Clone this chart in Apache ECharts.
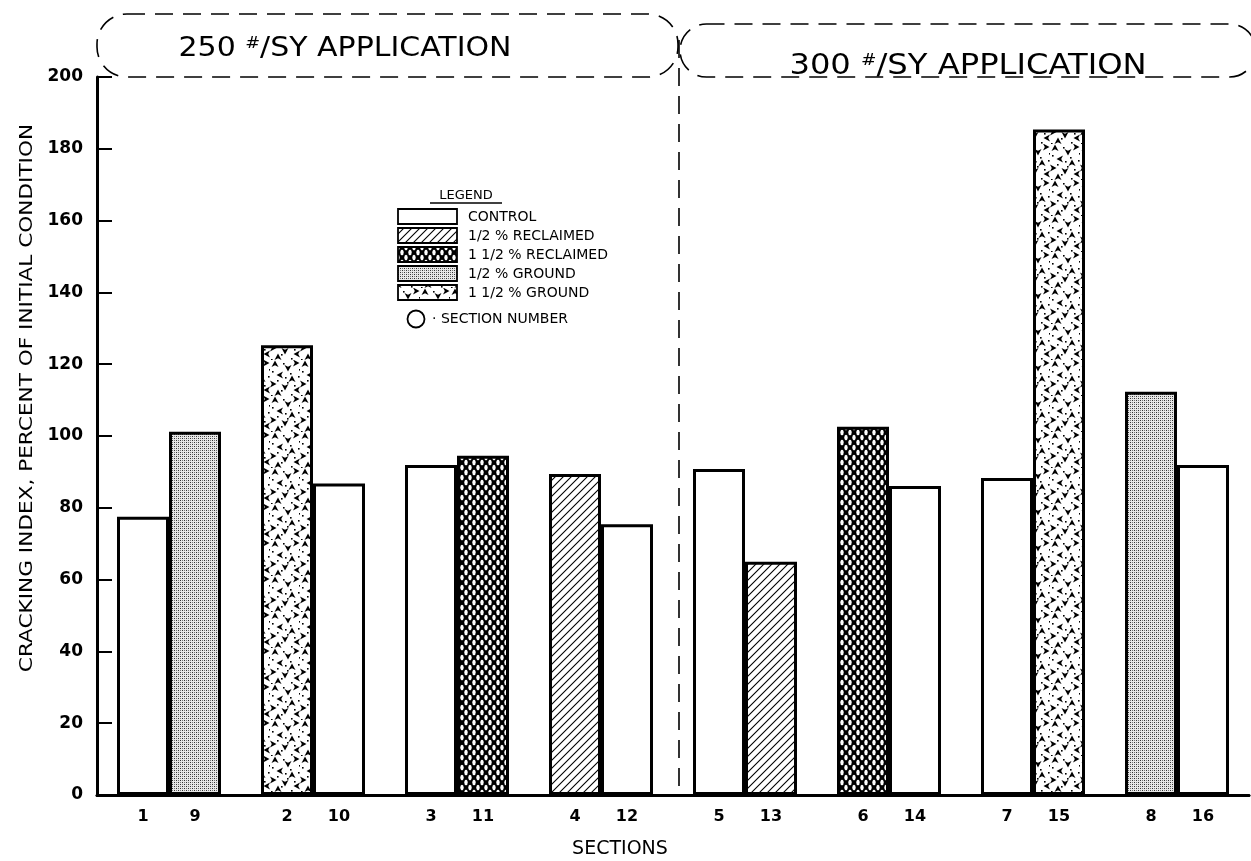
<!DOCTYPE html>
<html><head><meta charset="utf-8">
<script src="https://cdn.jsdelivr.net/npm/echarts@6/dist/echarts.min.js"></script>
<style>html,body{margin:0;padding:0;background:#fff}#c{width:1251px;height:861px}</style>
</head><body><div id="c"></div>
<script>
// ---- data ----
const pairLabels = ['1-9','2-10','3-11','4-12','5-13','6-14','7-15','8-16'];
const leftSections = ['1','2','3','4','5','6','7','8'];
const rightSections = ['9','10','11','12','13','14','15','16'];
const leftValues = [77.5,125.3,91.9,89.4,90.8,102.6,88.3,112.3];
const rightValues = [101.2,86.8,94.5,75.4,65.0,86.1,185.4,91.9];
const leftTreatments = ['control','ground15','control','reclaimed05','control','reclaimed15','control','ground05'];
const rightTreatments = ['ground05','control','reclaimed15','control','reclaimed05','control','ground15','control'];
const legendKeys = ['control','reclaimed05','reclaimed15','ground05','ground15'];
const legendLabels = ['CONTROL','1/2 % RECLAIMED','1 1/2 % RECLAIMED','1/2 % GROUND','1 1/2 % GROUND'];
const yMin = 0, yMax = 200, yStep = 20;
const groupTitles = ['250 {s|#}/SY APPLICATION','300 {s|#}/SY APPLICATION'];
const yTitle = 'CRACKING INDEX, PERCENT OF INITIAL CONDITION';
const xTitle = 'SECTIONS';

// ---- textures ----
function mk(w,h,draw){const c=document.createElement('canvas');c.width=w;c.height=h;const g=c.getContext('2d');draw(g);return c;}
const tex = {
  control: '#ffffff',
  reclaimed05: {image: mk(8,8,g=>{g.fillStyle='#fff';g.fillRect(0,0,8,8);g.strokeStyle='#000';g.lineWidth=1.1;g.beginPath();g.moveTo(-1,9);g.lineTo(9,-1);g.moveTo(-1,1);g.lineTo(1,-1);g.moveTo(7,9);g.lineTo(9,7);g.stroke();}), repeat:'repeat'},
  reclaimed15: {image: mk(8,10,g=>{g.fillStyle='#000';g.fillRect(0,0,8,10);g.fillStyle='#fff';
      [[2,2.5],[6,7.5],[6,-2.5],[2,12.5],[-2,7.5],[10,7.5]].forEach(p=>{g.beginPath();g.ellipse(p[0],p[1],1.7,2.7,0,0,Math.PI*2);g.fill();});}), repeat:'repeat'},
  ground05: {image: mk(4,4,g=>{g.fillStyle='#e8e8e8';g.fillRect(0,0,4,4);g.fillStyle='#333';g.fillRect(0,0,1,1);g.fillRect(2,2,1,1);g.fillStyle='#777';g.fillRect(2,0,1,1);g.fillRect(0,2,1,1);}), repeat:'repeat'},
  ground15: {image: mk(30,36,g=>{g.fillStyle='#fff';g.fillRect(0,0,30,36);g.fillStyle='#000';
      const tris=[[5,4,0],[18,8,2],[26,3,1],[10,15,3],[22,19,0],[3,24,1],[15,27,2],[27,30,3],[8,33,0]];
      tris.forEach(t=>{g.save();g.translate(t[0],t[1]);g.rotate(t[2]*Math.PI/2);g.beginPath();g.moveTo(0,-3.5);g.lineTo(3.5,3);g.lineTo(0,1.2);g.lineTo(-3.5,3);g.closePath();g.fill();g.restore();});
      const dots=[[13,3],[2,11],[20,13],[28,16],[7,20],[17,22],[24,25],[11,30],[21,34],[1,35],[15,17],[29,9]];
      dots.forEach(d=>g.fillRect(d[0],d[1],1.6,1.6));}), repeat:'repeat'}
};

const font = 'DejaVu Sans';
const chart = echarts.init(document.getElementById('c'), null, {renderer:'canvas'});

function barSeries(name, values, treatments, sections){
  return {
    name, type:'bar', xAxisIndex:0, yAxisIndex:0,
    barWidth:52, barGap:'0%',
    data: values.map((v,i)=>({value:v, itemStyle:{color: tex[treatments[i]]}})),
    itemStyle:{borderColor:'#000', borderWidth:3},
    label:{show:true, position:'bottom', distance:14, color:'#000', fontFamily:font, fontSize:16, fontWeight:'bold',
      formatter: p => sections[p.dataIndex]},
    silent:true
  };
}

// legend graphic
const lgX = 398, lgY0 = 209, lgStep = 19;
const legendChildren = [
  {type:'text', x:lgX+68, y:lgY0-13, style:{text:'LEGEND', font:'13px "'+font+'"', fill:'#000', textAlign:'center', textVerticalAlign:'middle', textBaseline:'middle'}},
  {type:'line', shape:{x1:lgX+32, y1:lgY0-6, x2:lgX+104, y2:lgY0-6}, style:{stroke:'#000', lineWidth:1.3}}
];
legendKeys.forEach((k,i)=>{
  const y = lgY0 + i*lgStep;
  legendChildren.push({type:'rect', shape:{x:lgX, y:y, width:59, height:15},
    style:{fill: tex[k], stroke:'#000', lineWidth:1.8}});
  legendChildren.push({type:'text', x:lgX+70, y:y+8,
    style:{text:legendLabels[i], font:'14px "'+font+'"', fill:'#000', textVerticalAlign:'middle', textBaseline:'middle'}});
});
legendChildren.push({type:'circle', shape:{cx:lgX+18, cy:lgY0+5*lgStep+15, r:8.5}, style:{fill:'none', stroke:'#000', lineWidth:1.8}});
legendChildren.push({type:'text', x:lgX+34, y:lgY0+5*lgStep+15,
  style:{text:'· SECTION NUMBER', font:'14px "'+font+'"', fill:'#000', textBaseline:'middle', textVerticalAlign:'middle'}});

const dash = {fill:'none', stroke:'#000', lineWidth:1.6, lineDash:[18,10]};

chart.setOption({
  animation:false,
  backgroundColor:'#fff',
  grid:{left:97, right:2, top:77, bottom:66, containLabel:false},
  xAxis:[
    {type:'category', data:pairLabels, position:'bottom',
     axisLine:{show:true, onZero:false, lineStyle:{color:'#000', width:3}},
     axisTick:{show:false}, axisLabel:{show:false}, splitLine:{show:false}},
    {type:'category', data:pairLabels, position:'top',
     axisLine:{show:true, lineStyle:{color:'#000', width:2.5}},
     axisTick:{show:false}, axisLabel:{show:false}, splitLine:{show:false}}
  ],
  yAxis:{type:'value', min:yMin, max:yMax, interval:yStep,
    axisLine:{show:true, lineStyle:{color:'#000', width:3}},
    axisTick:{show:true, inside:true, length:15, lineStyle:{color:'#000', width:2}},
    axisLabel:{color:'#000', fontFamily:font, fontSize:17, fontWeight:'bold', margin:14},
    splitLine:{show:false}
  },
  series:[
    barSeries('left', leftValues, leftTreatments, leftSections),
    barSeries('right', rightValues, rightTreatments, rightSections)
  ],
  graphic:[
    {type:'rect', shape:{x:97, y:14, width:581, height:63, r:30}, style:dash, silent:true},
    {type:'rect', shape:{x:680, y:24, width:576, height:53, r:30}, style:dash, silent:true},
    {type:'line', shape:{x1:679, y1:40, x2:679, y2:795}, style:dash, silent:true},
    {type:'text', x:345, y:49, scaleX:1.11, style:{text:groupTitles[0], font:'27px "'+font+'"', fill:'#000', textAlign:'center', textVerticalAlign:'middle', textBaseline:'middle',
      rich:{s:{fontSize:16, verticalAlign:'top', fontFamily:font, padding:[0,0,11,0]}}}},
    {type:'text', x:968, y:67, scaleX:1.15, style:{text:groupTitles[1], font:'28px "'+font+'"', fill:'#000', textAlign:'center', textVerticalAlign:'middle', textBaseline:'middle',
      rich:{s:{fontSize:16, verticalAlign:'top', fontFamily:font, padding:[0,0,11,0]}}}},
    {type:'text', x:27, y:398, rotation:Math.PI/2, scaleX:1.2, style:{text:yTitle, font:'18px "'+font+'"', fill:'#000', textAlign:'center', textVerticalAlign:'middle', textBaseline:'middle'}},
    {type:'text', x:620, y:849, style:{text:xTitle, font:'19px "'+font+'"', fill:'#000', textAlign:'center', textVerticalAlign:'middle', textBaseline:'middle'}},
    {type:'group', children:legendChildren}
  ]
});
</script></body></html>
